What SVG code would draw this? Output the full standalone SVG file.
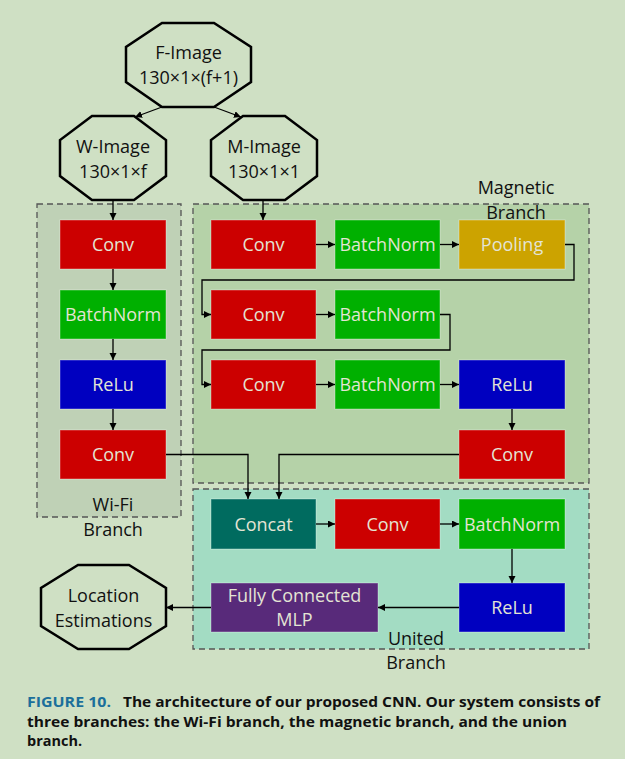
<svg xmlns="http://www.w3.org/2000/svg" width="625" height="759" viewBox="0 0 625 759">
<defs>
<marker id="ah" markerWidth="8" markerHeight="8" refX="7" refY="3.5" orient="auto" markerUnits="userSpaceOnUse"><path d="M0,0 L7,3.5 L0,7 z" fill="#000"/></marker>
<style>
.oct{fill:#cfe0c4;stroke:#000;stroke-width:2.5;stroke-linejoin:miter}
.ot{font-family:'Open Sans','Liberation Sans',sans-serif;font-size:18px;fill:#111;text-anchor:middle}
.bt{font-family:'Open Sans','Liberation Sans',sans-serif;font-size:18px;fill:#e4e4d4;text-anchor:middle}
.box{stroke-width:1;stroke-opacity:0.35;stroke:#ffffff}
.red{fill:#cc0000}.grn{fill:#00b000}.blu{fill:#0000c0}.yel{fill:#cca300}.teal{fill:#006b5f}.pur{fill:#582a7a}
.c{fill:none;stroke:#000;stroke-width:1.3}
.a{marker-end:url(#ah)}
.grp{stroke:#555;stroke-width:1.3;stroke-dasharray:6 4}
.cap{font-family:'Open Sans','Liberation Sans',sans-serif;font-size:14px;font-weight:bold;fill:#111}
</style>
</defs>
<rect width="625" height="759" fill="#cfe0c4"/>

<g id="branches">
<g id="wifi-branch"><rect class="grp" x="37" y="204" width="144" height="313" fill="#bfd1b6"/><text class="ot" x="113" y="511">Wi-Fi</text><text class="ot" x="113" y="536">Branch</text></g>
<g id="magnetic-branch"><rect class="grp" x="193" y="204" width="396" height="279" fill="#b5d2a8"/><text class="ot" x="516" y="193.5">Magnetic</text><text class="ot" x="516" y="218.5">Branch</text></g>
<g id="united-branch"><rect class="grp" x="193" y="489" width="396" height="160" fill="#a3dcc3"/><text class="ot" x="416" y="645">United</text><text class="ot" x="416" y="669">Branch</text></g>
</g>

<g id="f-image"><polygon class="oct" points="162,23 214,23 251,47 251,82 214,107 162,107 126,82 126,47"/><text class="ot" x="188.5" y="58.5">F-Image</text><text class="ot" x="188.5" y="83.5">130×1×(f+1)</text></g>
<g id="w-image"><polygon class="oct" points="92,116 134,116 166,140 166,176 134,200 92,200 60,176 60,140"/><text class="ot" x="113" y="152.5">W-Image</text><text class="ot" x="113" y="177.5">130×1×f</text></g>
<g id="m-image"><polygon class="oct" points="243,116 285,116 317,140 317,176 285,200 243,200 211,176 211,140"/><text class="ot" x="264" y="152.5">M-Image</text><text class="ot" x="264" y="177.5">130×1×1</text></g>
<g id="location"><polygon class="oct" points="78,565 129,565 166,588 166,626 129,649 78,649 41,626 41,588"/><text class="ot" x="103.5" y="601.5">Location</text><text class="ot" x="103.5" y="626.5">Estimations</text></g>

<g id="w-conv1"><rect class="box red" x="60" y="220" width="106" height="49"/><text class="bt" x="113" y="251">Conv</text></g>
<g id="w-bn"><rect class="box grn" x="60" y="290" width="106" height="49"/><text class="bt" x="113" y="321">BatchNorm</text></g>
<g id="w-relu"><rect class="box blu" x="60" y="360" width="106" height="49"/><text class="bt" x="113" y="391">ReLu</text></g>
<g id="w-conv2"><rect class="box red" x="60" y="430" width="106" height="49"/><text class="bt" x="113" y="461">Conv</text></g>

<g id="m-conv1"><rect class="box red" x="211" y="220" width="105" height="49"/><text class="bt" x="263.5" y="251">Conv</text></g>
<g id="m-bn1"><rect class="box grn" x="335" y="220" width="105" height="49"/><text class="bt" x="387.5" y="251">BatchNorm</text></g>
<g id="m-pool"><rect class="box yel" x="459" y="220" width="106" height="49"/><text class="bt" x="512" y="251">Pooling</text></g>
<g id="m-conv2"><rect class="box red" x="211" y="290" width="105" height="49"/><text class="bt" x="263.5" y="321">Conv</text></g>
<g id="m-bn2"><rect class="box grn" x="335" y="290" width="105" height="49"/><text class="bt" x="387.5" y="321">BatchNorm</text></g>
<g id="m-conv3"><rect class="box red" x="211" y="360" width="105" height="49"/><text class="bt" x="263.5" y="391">Conv</text></g>
<g id="m-bn3"><rect class="box grn" x="335" y="360" width="105" height="49"/><text class="bt" x="387.5" y="391">BatchNorm</text></g>
<g id="m-relu"><rect class="box blu" x="459" y="360" width="106" height="49"/><text class="bt" x="512" y="391">ReLu</text></g>
<g id="m-conv4"><rect class="box red" x="459" y="430" width="106" height="49"/><text class="bt" x="512" y="461">Conv</text></g>

<g id="u-concat"><rect class="box teal" x="211" y="499" width="105" height="50"/><text class="bt" x="263.5" y="530.5">Concat</text></g>
<g id="u-conv"><rect class="box red" x="335" y="499" width="105" height="50"/><text class="bt" x="387.5" y="530.5">Conv</text></g>
<g id="u-bn"><rect class="box grn" x="459" y="499" width="106" height="50"/><text class="bt" x="512" y="530.5">BatchNorm</text></g>
<g id="u-mlp"><rect class="box pur" x="211" y="583" width="167" height="49"/><text class="bt" x="294.5" y="601.5">Fully Connected</text><text class="bt" x="294.5" y="626">MLP</text></g>
<g id="u-relu"><rect class="box blu" x="459" y="583" width="106" height="49"/><text class="bt" x="512" y="614">ReLu</text></g>

<g id="connectors">
<path class="c a" d="M162,107 L135,117"/>
<path class="c a" d="M214,107 L241,117"/>
<path class="c a" d="M113,200 V220"/>
<path class="c a" d="M113,269 V290"/>
<path class="c a" d="M113,339 V360"/>
<path class="c a" d="M113,409 V430"/>
<path class="c a" d="M263,200 V220"/>
<path class="c a" d="M316,244.5 H335"/>
<path class="c a" d="M440,244.5 H459"/>
<path class="c a" d="M565,244.5 H574 V280 H202 V314.5 H211"/>
<path class="c a" d="M316,314.5 H335"/>
<path class="c a" d="M440,314.5 H450 V350 H202 V384.5 H211"/>
<path class="c a" d="M316,384.5 H335"/>
<path class="c a" d="M440,384.5 H459"/>
<path class="c a" d="M512,409 V430"/>
<path class="c a" d="M459,454.5 H279 V499"/>
<path class="c a" d="M166,454.5 H248 V499"/>
<path class="c a" d="M316,524 H335"/>
<path class="c a" d="M440,524 H459"/>
<path class="c a" d="M512,549 V583"/>
<path class="c a" d="M459,607.5 H378"/>
<path class="c a" d="M211,607.5 H166"/>
</g>

<g id="caption">
<text class="cap" x="27" y="707" style="fill:#1b6f9b" textLength="84" lengthAdjust="spacingAndGlyphs">FIGURE 10.</text>
<text class="cap" x="123" y="707" textLength="477" lengthAdjust="spacingAndGlyphs">The architecture of our proposed CNN. Our system consists of</text>
<text class="cap" x="27" y="726.5" textLength="540" lengthAdjust="spacingAndGlyphs">three branches: the Wi-Fi branch, the magnetic branch, and the union</text>
<text class="cap" x="27" y="745.5" textLength="55" lengthAdjust="spacingAndGlyphs">branch.</text>
</g>
</svg>
